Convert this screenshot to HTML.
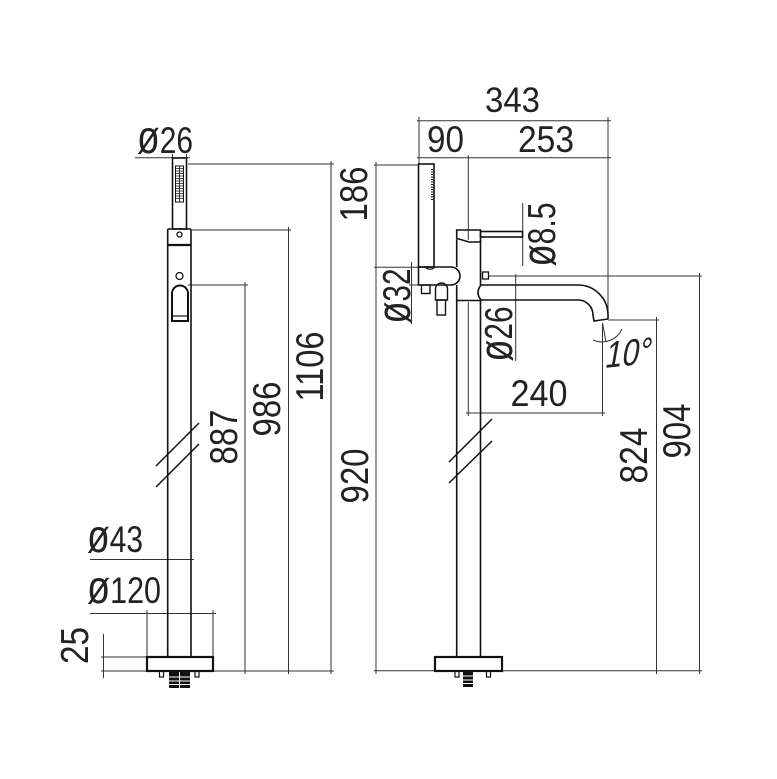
<!DOCTYPE html>
<html><head><meta charset="utf-8"><style>
html,body{margin:0;padding:0;background:#fff;}
svg{display:block;}
text{font-family:"Liberation Sans",sans-serif;fill:#222;}
</style></head><body>
<svg width="777" height="779" viewBox="0 0 777 779" xmlns="http://www.w3.org/2000/svg">
<rect width="777" height="779" fill="#fff"/>

<!-- ===== Dimension lines ===== -->
<g stroke="#333" stroke-width="1" fill="none">
  <!-- left view -->
  <path d="M135 157.7 H190 M172.5 154 V161 M186.5 154 V161"/>
  <path d="M188 164 H334 M331 161 V674"/>
  <path d="M192 230 H291 M288.5 227 V674"/>
  <path d="M188 285 H248 M245 282 V674"/>
  <path d="M101 671 H147 M213 671 H334"/>
  <path d="M101 657 H147 M103.5 634 V678"/>
  <path d="M90 559.5 H194 M167.7 556 V563 M191 556 V563"/>
  <path d="M90 613.5 H216 M147 610 V657 M213 610 V657"/>
  <!-- right view -->
  <path d="M417 120.7 H611 M417 157.7 H611"/>
  <path d="M419 117 V164 M608 117 V319 M468.3 155 V240"/>
  <path d="M374 165 H419 M376 162 V674 M374 267.3 H419"/>
  <path d="M409 285 H419 M411.5 262 V324"/>
  <path d="M522.7 203 V266"/>
  <path d="M515.7 274 V361"/>
  <path d="M488 276 H702 M699.5 273 V674"/>
  <path d="M608 320 H659 M656.5 317 V674"/>
  <path d="M466 413 H605 M468.3 302 V416 M602.5 323 V416"/>
  <path d="M374 670.7 H435 M502 670.7 H702"/>
  <!-- 10 degree -->
  <path d="M593 340 A22 22 0 0 0 622 329"/>
  <path d="M602.5 323 L606 342"/>
</g>

<!-- ===== Objects ===== -->
<g stroke="#111" stroke-width="1.6" fill="none">
  <!-- LEFT VIEW -->
  <rect x="172.5" y="158" width="14" height="71"/>
  <rect x="175.5" y="166" width="8" height="36" stroke-width="1"/>
  <path stroke-width="0.8" d="M179.5 166 V202 M175.5 168.5 H183.5 M175.5 171 H183.5 M175.5 173.5 H183.5 M175.5 176 H183.5 M175.5 178.5 H183.5 M175.5 181 H183.5 M175.5 183.5 H183.5 M175.5 186 H183.5 M175.5 188.5 H183.5 M175.5 191 H183.5 M175.5 193.5 H183.5 M175.5 196 H183.5 M175.5 198.5 H183.5"/>
  <path d="M167.7 229 H191 M167.7 229 V657 M191 229 V657"/>
  <path d="M167.7 245 H191" stroke-width="2.2"/>
  <circle cx="179.5" cy="234.5" r="2.5" stroke-width="1.3"/>
  <circle cx="179.5" cy="276" r="3.5" stroke-width="1.3"/>
  <path d="M172 321 V293.5 A8 8 0 0 1 188 293.5 V321 Z" stroke-width="2"/>
  <path d="M172 316 H188" stroke-width="1.2"/>
  <path d="M156 466 L199 423 M156 487 L199 444" stroke-width="1.5"/>
  <rect x="147" y="657" width="66" height="14" stroke-width="2.2"/>
  <rect x="159.5" y="671" width="4" height="6" stroke-width="1.2"/>
  <rect x="195" y="671" width="4" height="6" stroke-width="1.2"/>

  <!-- RIGHT VIEW -->
  <rect x="418.5" y="164" width="15.5" height="103"/>
  <path d="M432 169 V201" stroke-width="2" stroke-dasharray="1 1.5"/>
  <path d="M418.5 267 H451 A9 9 0 0 1 451 285 H418.5 Z"/>
  <path d="M426 268 A5 3 0 0 0 434 268" stroke-width="1.2"/>
  <path d="M456.7 240 V267 M456.7 285 V657"/>
  <path d="M480.5 240 V285 M480.5 300 V657"/>
  <path d="M456.7 300.5 H480.5"/>
  <path d="M456.7 230 H480.5 V242 H469 L459 239 H456.7 Z"/>
  <rect x="480.5" y="231.5" width="42" height="5.5"/>
  <rect x="482.5" y="272" width="6" height="7" stroke-width="1.3"/>
  <rect x="421.5" y="285" width="8.5" height="8.5" stroke-width="1.4"/>
  <path d="M435.5 300 V289 A6 6 0 0 1 447.5 289 V300 Z" stroke-width="1.4"/>
  <rect x="437" y="300" width="8.5" height="15" stroke-width="1.4"/>
  <path d="M481 285 H578 A30 30 0 0 1 608 315 V319"/>
  <path d="M481 300 H578 A15 15 0 0 1 593 315 L594 321 L608 319"/>
  <path d="M481 285 Q475 292.5 481 300"/>
  <path d="M449 462 L492 419 M449 483 L492 441" stroke-width="1.5"/>
  <rect x="435" y="657" width="67" height="14" stroke-width="2.2"/>
  <rect x="455" y="671" width="4" height="6" stroke-width="1.2"/>
  <rect x="486.5" y="671" width="4" height="6" stroke-width="1.2"/>
</g>

<!-- fittings filled -->
<g fill="#111">
  <rect x="169" y="671" width="10" height="17"/>
  <rect x="180" y="671" width="10" height="17"/>
  <rect x="463" y="671" width="10" height="16"/>
</g>
<g stroke="#fff" stroke-width="1">
  <path d="M169 677 H190 M169 681 H190 M169 684.5 H190"/>
  <path d="M463 676 H473 M463 680 H473 M463 683.5 H473"/>
</g>

<!-- ===== Texts ===== -->
<g font-size="37">
  <text x="137" y="153" textLength="56" lengthAdjust="spacingAndGlyphs"><tspan font-size="46">ø</tspan>26</text>
  <text x="485" y="112" font-size="35" textLength="55" lengthAdjust="spacingAndGlyphs">343</text>
  <text x="427" y="152" textLength="37" lengthAdjust="spacingAndGlyphs">90</text>
  <text x="518" y="152" textLength="56" lengthAdjust="spacingAndGlyphs">253</text>
  <text x="510.5" y="406" textLength="57" lengthAdjust="spacingAndGlyphs">240</text>
  <text x="87" y="552" textLength="56" lengthAdjust="spacingAndGlyphs"><tspan font-size="46">ø</tspan>43</text>
  <text x="87" y="603" textLength="74" lengthAdjust="spacingAndGlyphs"><tspan font-size="46">ø</tspan>120</text>
  <text transform="translate(604,368) rotate(-6) skewX(-16)" x="0" y="0" textLength="46" lengthAdjust="spacingAndGlyphs">10°</text>
</g>
<g font-size="39">
  <text transform="translate(88,664) rotate(-90)" x="0" y="0" textLength="37" lengthAdjust="spacingAndGlyphs">25</text>
  <text transform="translate(237,464.5) rotate(-90)" x="0" y="0" textLength="55" lengthAdjust="spacingAndGlyphs">887</text>
  <text transform="translate(280,436.5) rotate(-90)" x="0" y="0" textLength="55" lengthAdjust="spacingAndGlyphs">986</text>
  <text transform="translate(323,401.5) rotate(-90)" x="0" y="0" textLength="70" lengthAdjust="spacingAndGlyphs">1106</text>
  <text transform="translate(367,221.5) rotate(-90)" x="0" y="0" textLength="55" lengthAdjust="spacingAndGlyphs">186</text>
  <text transform="translate(368,503.5) rotate(-90)" x="0" y="0" textLength="55" lengthAdjust="spacingAndGlyphs">920</text>
  <text transform="translate(410,323.5) rotate(-90)" x="0" y="0" textLength="55" lengthAdjust="spacingAndGlyphs"><tspan font-size="47">ø</tspan>32</text>
  <text transform="translate(555,266.5) rotate(-90)" x="0" y="0" textLength="64" lengthAdjust="spacingAndGlyphs"><tspan font-size="47">ø</tspan>8.5</text>
  <text transform="translate(512,361.5) rotate(-90)" x="0" y="0" textLength="55" lengthAdjust="spacingAndGlyphs"><tspan font-size="47">ø</tspan>26</text>
  <text transform="translate(647,483.5) rotate(-90)" x="0" y="0" textLength="56" lengthAdjust="spacingAndGlyphs">824</text>
  <text transform="translate(690,458.5) rotate(-90)" x="0" y="0" textLength="55" lengthAdjust="spacingAndGlyphs">904</text>
</g>
</svg>
</body></html>
